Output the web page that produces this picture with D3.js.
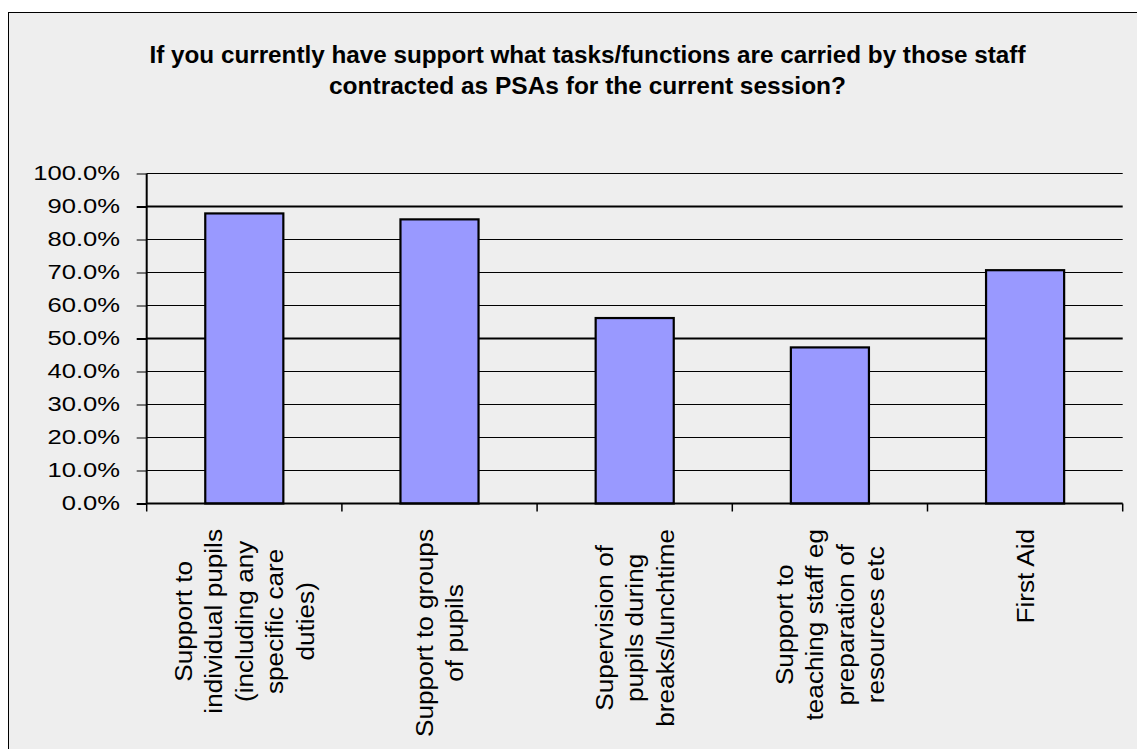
<!DOCTYPE html>
<html>
<head>
<meta charset="utf-8">
<script src="https://cdn.jsdelivr.net/npm/d3@7/dist/d3.min.js"></script>
<style>
  html, body { margin: 0; padding: 0; background: #ffffff; }
  svg { display: block; }
  text { font-family: "Liberation Sans", Arial, sans-serif; fill: #000; }
</style>
</head>
<body>
<svg id="chart" width="1137" height="749"></svg>
<script>
// Survey results: share of schools where PSAs carry out each task
const titleLines = [
  "If you currently have support what tasks/functions are carried by those staff",
  "contracted as PSAs for the current session?"
];
const categories = [
  ["Support to", "individual pupils", "(including any", "specific care", "duties)"],
  ["Support to groups", "of pupils"],
  ["Supervision of", "pupils during", "breaks/lunchtime"],
  ["Support to", "teaching staff eg", "preparation of", "resources etc"],
  ["First Aid"]
];
const values = [87.9, 86.1, 56.2, 47.3, 70.7];
const yTicks = [0, 10, 20, 30, 40, 50, 60, 70, 80, 90, 100];
const heavyGrid = [50, 90];

const svg = d3.select("#chart");

// chart frame
svg.append("rect")
  .attr("x", 8.5).attr("y", 12.5)
  .attr("width", 1140).attr("height", 760)
  .attr("fill", "#eeeeee").attr("stroke", "#000").attr("stroke-width", 1);

const plotLeft = 146.7, plotRight = 1122.7;
const x = d3.scaleBand()
  .domain(d3.range(categories.length))
  .range([plotLeft, plotRight])
  .paddingInner(0.6)
  .paddingOuter(0.3);
const step = x.step();
const y = d3.scaleLinear().domain([0, 100]).range([503.5, 173.5]);

// title
const title = svg.append("g");
const titleWidths = [876, 517];
titleLines.forEach((t, i) => {
  title.append("text")
    .attr("x", 587.5)
    .attr("y", 63 + i * 31)
    .attr("text-anchor", "middle")
    .attr("font-size", 23)
    .attr("font-weight", "bold")
    .attr("textLength", titleWidths[i])
    .attr("lengthAdjust", "spacingAndGlyphs")
    .text(t);
});

// horizontal gridlines
svg.append("g")
  .selectAll("line")
  .data(yTicks.filter(d => d > 0))
  .join("line")
  .attr("x1", plotLeft).attr("x2", plotRight)
  .attr("y1", d => y(d)).attr("y2", d => y(d))
  .attr("stroke", "#000")
  .attr("stroke-width", d => heavyGrid.includes(d) ? 2 : 1);

// y axis
const yAxis = svg.append("g")
  .attr("transform", `translate(${plotLeft},0)`)
  .call(d3.axisLeft(y).tickValues(yTicks).tickSize(10).tickFormat(""));
yAxis.select(".domain").attr("stroke", "#000").attr("stroke-width", 2).attr("d", `M0,${y(100)}V${y(0)}`);
yAxis.selectAll(".tick line").attr("stroke", "#000").attr("stroke-width", d => (d === 0 || heavyGrid.includes(d)) ? 2 : 1);

svg.append("g")
  .selectAll("text")
  .data(yTicks)
  .join("text")
  .attr("transform", d => `translate(120,${y(d)}) scale(1.28,1)`)
  .attr("text-anchor", "end")
  .attr("dominant-baseline", "central")
  .attr("font-size", 20)
  .text(d => d3.format(".1f")(d) + "%");

// bars
svg.append("g")
  .selectAll("rect")
  .data(values)
  .join("rect")
  .attr("x", (d, i) => x(i))
  .attr("y", d => y(d))
  .attr("width", x.bandwidth())
  .attr("height", d => y(0) - y(d))
  .attr("fill", "#9999ff")
  .attr("stroke", "#000")
  .attr("stroke-width", 2.2);

// x axis line and category separators
const xg = svg.append("g");
xg.append("line")
  .attr("x1", plotLeft).attr("x2", plotRight)
  .attr("y1", y(0)).attr("y2", y(0))
  .attr("stroke", "#000").attr("stroke-width", 2);
xg.selectAll("line.sep")
  .data(d3.range(categories.length + 1))
  .join("line")
  .attr("class", "sep")
  .attr("x1", i => plotLeft + i * step).attr("x2", i => plotLeft + i * step)
  .attr("y1", y(0)).attr("y2", y(0) + 8)
  .attr("stroke", "#000").attr("stroke-width", 1.5);

// rotated category labels, lines centred on the longest line
const lineGap = 30.5;
const labelTop = 529;
categories.forEach((lines, i) => {
  const cx = x(i) + x.bandwidth() / 2;
  const g = svg.append("g");
  const texts = lines.map((ln, j) => {
    const lx = cx + (j - (lines.length - 1) / 2) * lineGap;
    return g.append("text")
      .attr("font-size", 24)
      .attr("text-anchor", "middle")
      .attr("dominant-baseline", "central")
      .attr("data-x", lx)
      .text(ln);
  });
  const sx = 1.09;
  const maxLen = d3.max(texts, t => t.node().getComputedTextLength()) * sx;
  const cy = labelTop + maxLen / 2;
  texts.forEach(t => {
    t.attr("transform", `translate(${t.attr("data-x")},${cy}) rotate(-90) scale(${sx},1)`);
  });
});
</script>
</body>
</html>
